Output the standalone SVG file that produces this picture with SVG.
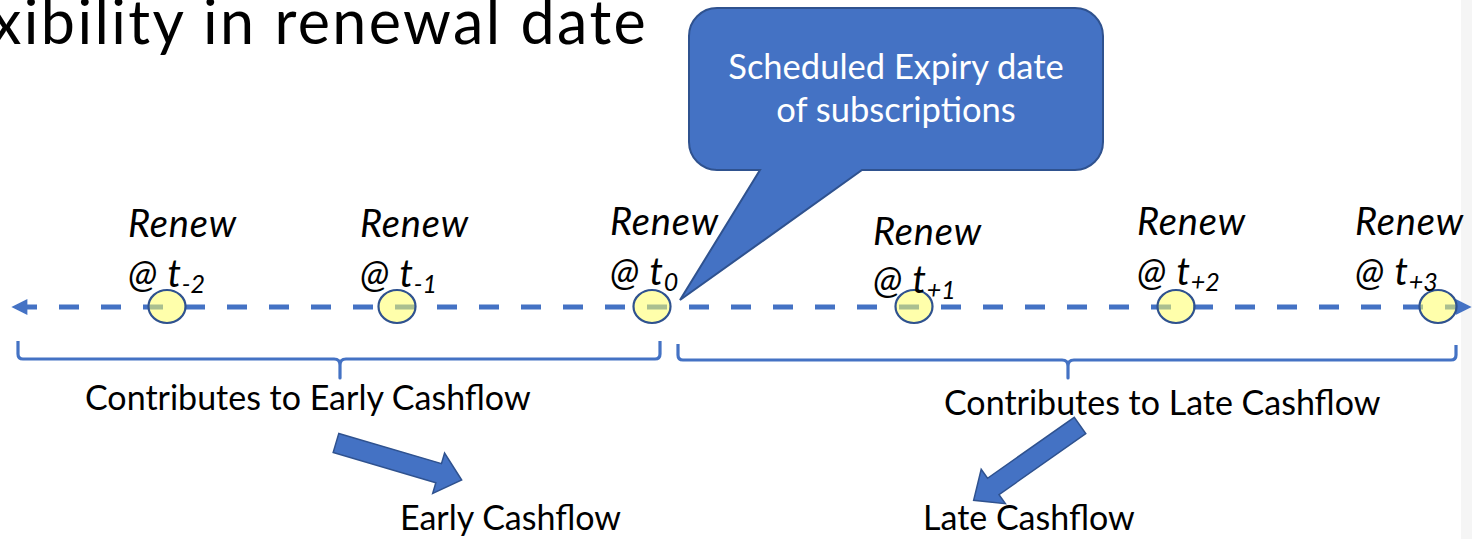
<svg xmlns="http://www.w3.org/2000/svg" width="1472" height="539" viewBox="0 0 1472 539">
  <defs>
    <style>
      .title { font-family: Lato, "Open Sans", sans-serif; font-size: 61px; letter-spacing: 2.4px; fill: #000; }
      .lbl { font-family: Lato, "Open Sans", sans-serif; font-style: italic; font-size: 38px; letter-spacing: 0.8px; fill: #000; }
      .sub { font-size: 25px; letter-spacing: 0; }
      .txt { font-family: Lato, "Open Sans", sans-serif; font-size: 34px; fill: #000; }
      .calltxt { font-family: Lato, "Open Sans", sans-serif; font-size: 34.5px; fill: #fff; text-anchor: middle; }
      .dot { fill: #FFFF66; fill-opacity: 0.55; stroke: #2F528F; stroke-width: 2.2; }
      .brace { fill: none; stroke: #4472C4; stroke-width: 3.2; stroke-linejoin: round; }
      .blk { fill: #4472C4; stroke: #2F528F; stroke-width: 1.5; }
    </style>
    <marker id="head" viewBox="0 0 10 10" refX="9" refY="5" markerWidth="3.6" markerHeight="3.2" orient="auto-start-reverse" markerUnits="strokeWidth">
      <path d="M0,0 L10,5 L0,10 Z" fill="#4472C4"/>
    </marker>
  </defs>

  <rect width="1472" height="539" fill="#fff"/>
  <rect x="1461" y="0" width="11" height="539" fill="#f5f5f5"/>

  <text class="title" x="-9" y="44">xibility in renewal date</text>

  <g id="connectors">
    <!-- timeline, arrowheads at both ends -->
    <line x1="13" y1="307" x2="1470" y2="307" stroke="#4472C4" stroke-width="5" stroke-dasharray="20 22" stroke-dashoffset="-4" marker-start="url(#head)" marker-end="url(#head)"/>
    <!-- braces under the timeline -->
    <path class="brace" d="M18,341 V354 Q18,359 23,359 H334 Q340,359 340,365 V378 V365 Q340,359 346,359 H655 Q660,359 660,354 V341"/>
    <path class="brace" d="M678,344 V355 Q678,360 683,360 H1062 Q1068,360 1068,366 V378 V366 Q1068,360 1074,360 H1451 Q1456,360 1456,355 V345"/>
    <!-- block arrows -->
    <path class="blk" transform="translate(336,443) rotate(16.4)" d="M0,-10 H107 V-21 L131,0 L107,21 V10 H0 Z"/>
    <path class="blk" transform="translate(1080,425.5) rotate(144.9)" d="M0,-10 H106 V-21 L130,0 L106,21 V10 H0 Z"/>
  </g>

  <g id="t-2">
    <ellipse class="dot" cx="167" cy="306.5" rx="18.5" ry="16.5"/>
    <text class="lbl" x="128" y="237">Renew</text>
    <text class="lbl" x="128" y="287">@ t<tspan class="sub" dy="6">-2</tspan></text>
  </g>
  <g id="t-1">
    <ellipse class="dot" cx="397" cy="306.5" rx="18.5" ry="16.5"/>
    <text class="lbl" x="360" y="237">Renew</text>
    <text class="lbl" x="360" y="287">@ t<tspan class="sub" dy="6">-1</tspan></text>
  </g>
  <g id="t0">
    <ellipse class="dot" cx="652" cy="306.5" rx="18.5" ry="16.5"/>
    <text class="lbl" x="610" y="235">Renew</text>
    <text class="lbl" x="610" y="285">@ t<tspan class="sub" dy="6">0</tspan></text>
  </g>
  <g id="t+1">
    <ellipse class="dot" cx="914" cy="306.5" rx="18.5" ry="16.5"/>
    <text class="lbl" x="873" y="245">Renew</text>
    <text class="lbl" x="873" y="293">@ t<tspan class="sub" dy="6">+1</tspan></text>
  </g>
  <g id="t+2">
    <ellipse class="dot" cx="1176" cy="306.5" rx="18.5" ry="16.5"/>
    <text class="lbl" x="1137" y="235">Renew</text>
    <text class="lbl" x="1137" y="285">@ t<tspan class="sub" dy="6">+2</tspan></text>
  </g>
  <g id="t+3">
    <ellipse class="dot" cx="1438" cy="306.5" rx="18.5" ry="16.5"/>
    <text class="lbl" x="1355" y="235">Renew</text>
    <text class="lbl" x="1355" y="285">@ t<tspan class="sub" dy="6">+3</tspan></text>
  </g>

  <g id="expiry-callout">
    <path fill="#4472C4" stroke="#2F528F" stroke-width="2" d="M717,8 H1075 A28,28 0 0 1 1103,36 V142 A28,28 0 0 1 1075,170 H862 L680,300 L760,170 H717 A28,28 0 0 1 689,142 V36 A28,28 0 0 1 717,8 Z"/>
    <text class="calltxt" x="896" y="79">Scheduled Expiry date</text>
    <text class="calltxt" x="896" y="122">of subscriptions</text>
  </g>

  <g id="early-group">
    <text class="txt" x="85" y="410">Contributes to Early Cashflow</text>
  </g>
  <g id="late-group">
    <text class="txt" x="944" y="415">Contributes to Late Cashflow</text>
  </g>
  <g id="early-cashflow">
    <text class="txt" x="400" y="530">Early Cashflow</text>
  </g>
  <g id="late-cashflow">
    <text class="txt" x="923" y="530">Late Cashflow</text>
  </g>
</svg>
